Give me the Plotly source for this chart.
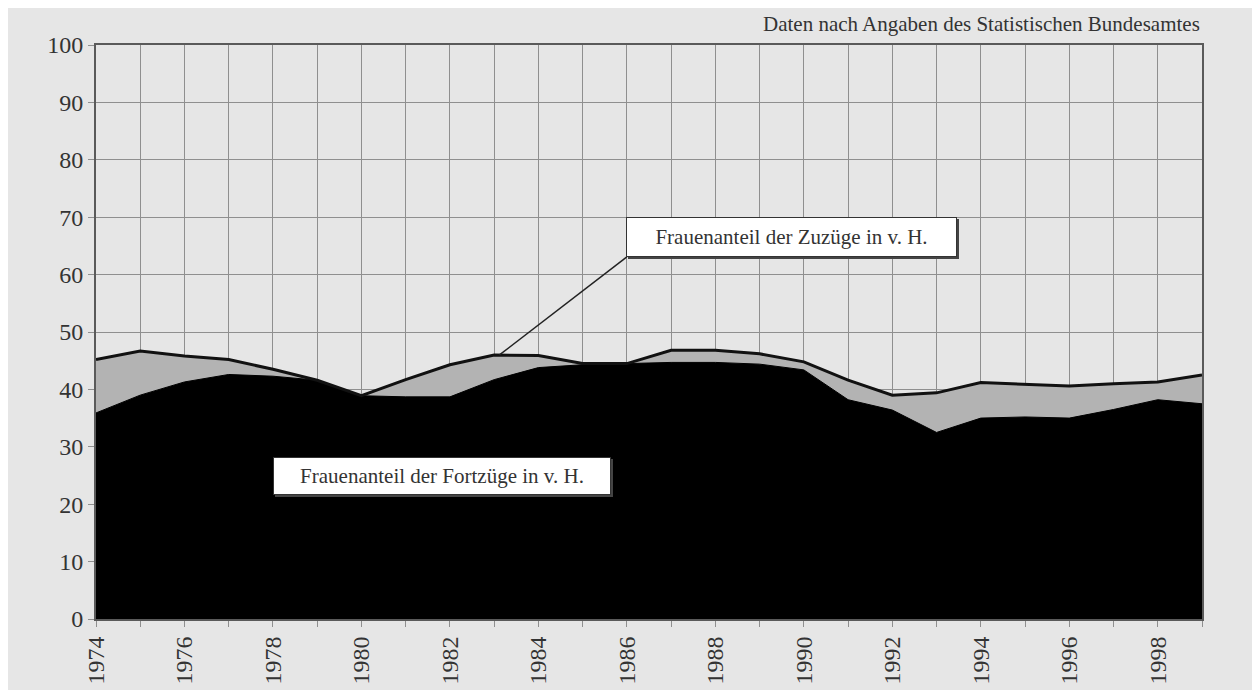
import plotly.graph_objects as go

years = list(range(1974, 2000))
zuzuege = [45.2, 46.7, 45.8, 45.2, 43.5, 41.6, 38.9, 41.7, 44.3, 46.0, 45.9, 44.5, 44.5,
           46.8, 46.8, 46.2, 44.8, 41.6, 39.0, 39.4, 41.2, 40.9, 40.6, 41.0, 41.3, 42.5]
fortzuege = [35.9, 39.0, 41.3, 42.6, 42.3, 41.6, 38.9, 38.7, 38.7, 41.7, 43.8, 44.3, 44.5,
             44.7, 44.7, 44.4, 43.4, 38.2, 36.4, 32.5, 35.0, 35.2, 35.0, 36.5, 38.2, 37.5]
y_ticks = [0, 10, 20, 30, 40, 50, 60, 70, 80, 90, 100]
x_labels = [str(y) if (y - 1974) % 2 == 0 else "" for y in years]

label_zu = "Frauenanteil der Zuzüge in v. H."
label_fort = "Frauenanteil der Fortzüge in v. H."
source = "Daten nach Angaben des Statistischen Bundesamtes"

FONT = "Liberation Serif, Times New Roman, serif"
BG = "#e6e6e6"

fig = go.Figure()
fig.add_trace(go.Scatter(x=years, y=zuzuege, mode="lines", fill="tozeroy",
                         fillcolor="#b3b3b3", line=dict(width=0, color="#b3b3b3"),
                         hoverinfo="skip", showlegend=False))
fig.add_trace(go.Scatter(x=years, y=fortzuege, mode="lines", fill="tozeroy",
                         fillcolor="#000000", line=dict(width=1, color="#000000"),
                         showlegend=False))
fig.add_trace(go.Scatter(x=years, y=zuzuege, mode="lines",
                         line=dict(width=3, color="#111111"), showlegend=False))

fig.update_layout(
    width=1252, height=682,
    margin=dict(l=88, r=58, t=37, b=71),
    paper_bgcolor=BG, plot_bgcolor=BG,
    font=dict(family=FONT, color="#333333"),
    showlegend=False,
)
fig.update_xaxes(
    range=[1974, 1999], tickvals=years, ticktext=x_labels, tickangle=-90,
    tickfont=dict(size=24, family=FONT, color="#333333"),
    showgrid=True, gridcolor="#8f8f8f", gridwidth=1,
    ticks="outside", ticklen=6, tickcolor="#8f8f8f",
    showline=True, mirror=True, linecolor="#5a5a5a", linewidth=2,
    zeroline=False, automargin=False,
)
fig.update_yaxes(
    range=[0, 100], tickvals=y_ticks,
    tickfont=dict(size=24, family=FONT, color="#333333"),
    showgrid=True, gridcolor="#8f8f8f", gridwidth=1,
    ticks="outside", ticklen=6, tickcolor="#8f8f8f",
    showline=True, mirror=True, linecolor="#5a5a5a", linewidth=2,
    zeroline=False, automargin=False,
)

# callout line from the Zuzüge curve (1983) to the label box corner
fig.add_shape(type="line", xref="x", yref="y", x0=1983.12, y0=zuzuege[9],
              x1=1986.0, y1=63.1, line=dict(color="#222222", width=1.5), layer="above")

def boxed(text, x, y, w, h):
    # shadow
    fig.add_annotation(x=x, y=y, xref="x", yref="y", text="", showarrow=False,
                       width=w, height=h, bgcolor="#444444", borderpad=0,
                       borderwidth=1, bordercolor="#444444", xshift=2, yshift=-2)
    fig.add_annotation(x=x, y=y, xref="x", yref="y", text=text, showarrow=False,
                       width=w, height=h, bgcolor="#ffffff", borderpad=0,
                       borderwidth=1, bordercolor="#333333",
                       font=dict(size=21, family=FONT, color="#333333"))

boxed(label_zu, 1989.73, 66.6, 329, 38)
boxed(label_fort, 1981.82, 24.9, 336, 36)

fig.add_annotation(x=1.0, y=1.0366, xref="paper", yref="paper", text=source,
                   showarrow=False, xanchor="right", yanchor="middle",
                   font=dict(size=21, family=FONT, color="#333333"))

fig.write_html("out.html")
